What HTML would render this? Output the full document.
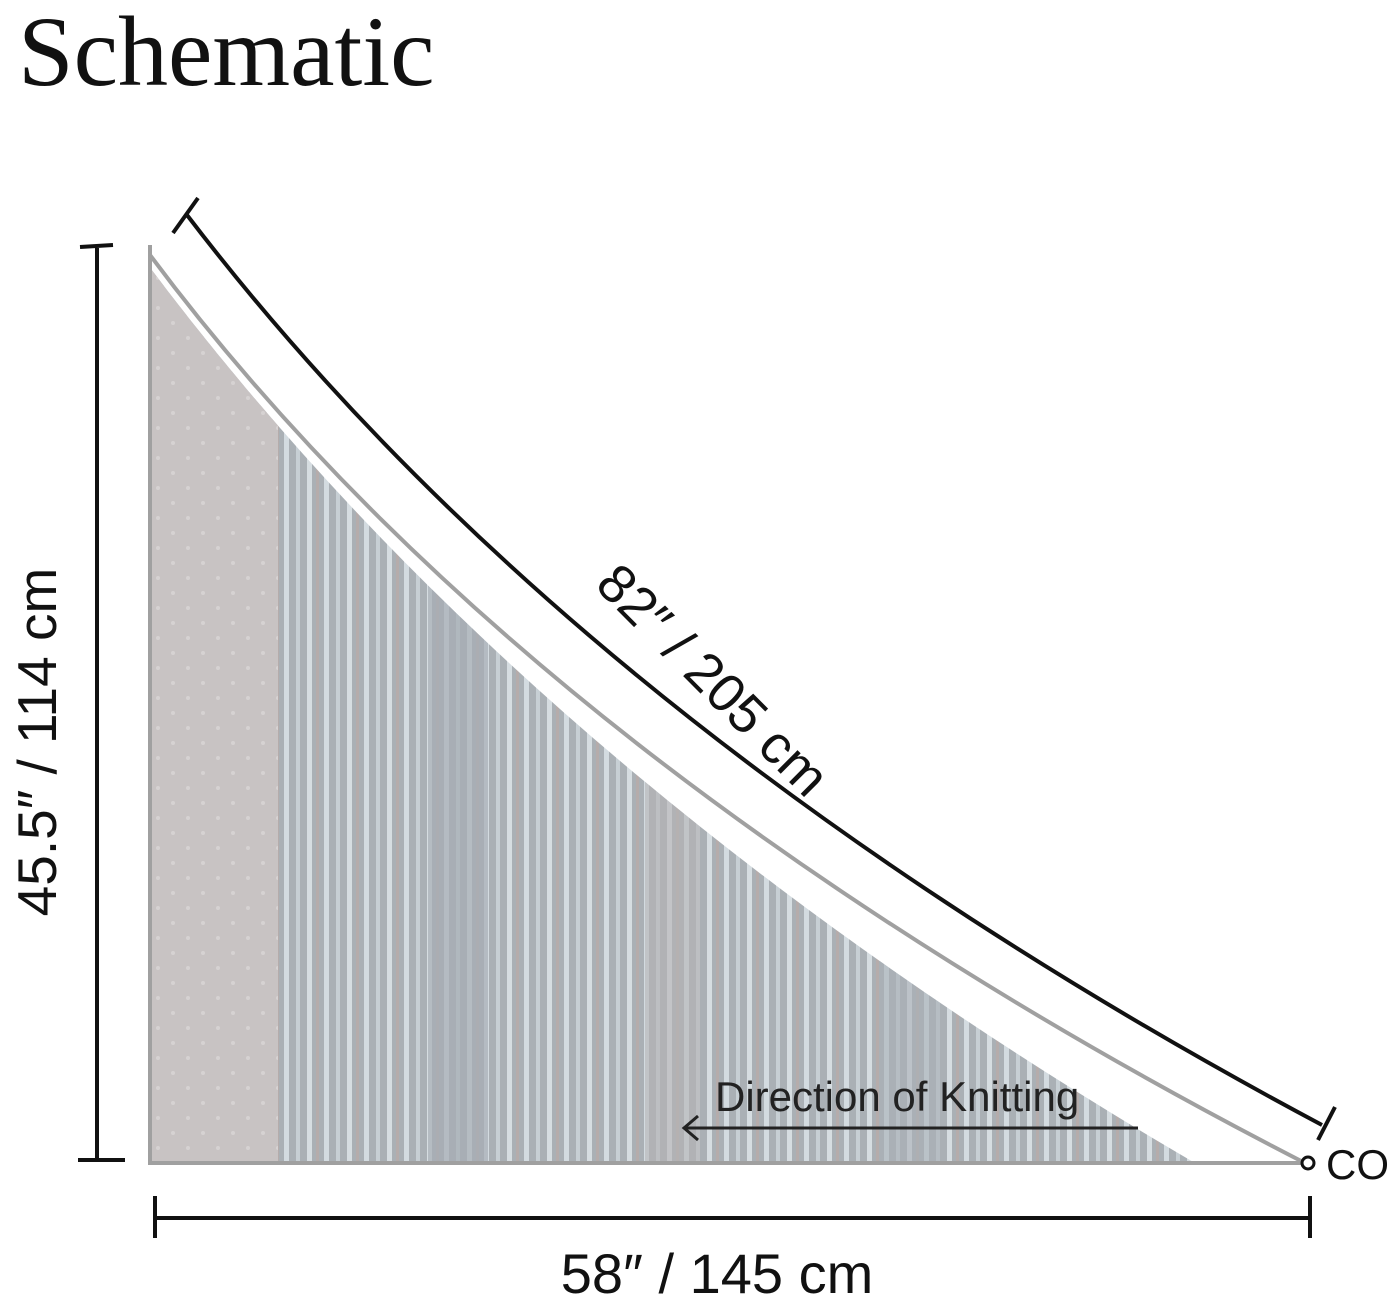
<!DOCTYPE html>
<html><head><meta charset="utf-8"><style>
html,body{margin:0;padding:0;background:#fff;}
body{width:1398px;height:1307px;overflow:hidden;position:relative;}
</style></head><body>
<svg width="1398" height="1307" viewBox="0 0 1398 1307" xmlns="http://www.w3.org/2000/svg">
<defs>
<pattern id="stripes" x="0" y="0" width="40" height="20" patternUnits="userSpaceOnUse">
<rect width="40" height="20" fill="#aab0b5"/>
<rect x="4" width="5" height="20" fill="#d3dbe0"/>
<rect x="16" width="4" height="20" fill="#c7cfd4"/>
<rect x="27" width="5" height="20" fill="#d6dde1"/>
<rect x="36" width="3" height="20" fill="#b5acab"/>
</pattern>
<pattern id="dots" x="0" y="0" width="30" height="30" patternUnits="userSpaceOnUse">
<rect width="30" height="30" fill="#c8c3c3"/>
<circle cx="8" cy="8" r="2" fill="#d6d2d2"/>
<circle cx="23" cy="23" r="2" fill="#d6d2d2"/>
</pattern>
<clipPath id="tri"><path d="M148,265 Q 530,775 1195,1163 L148,1163 Z"/></clipPath>
</defs>
<text x="18" y="85" font-family="Liberation Serif, serif" font-size="100" fill="#111">Schematic</text>
<g clip-path="url(#tri)">
<rect x="148" y="240" width="1200" height="930" fill="url(#stripes)"/>
<rect x="148" y="240" width="130" height="930" fill="url(#dots)"/>
<rect x="428" y="240" width="60" height="930" fill="#a6aeb5" opacity="0.7"/>
<rect x="645" y="240" width="55" height="930" fill="#b6b4b6" opacity="0.6"/>
<rect x="880" y="240" width="60" height="930" fill="#aab1b7" opacity="0.6"/>
</g>
<path d="M150,255 Q 530,765 1305,1163" fill="none" stroke="#a0a0a0" stroke-width="4"/>
<line x1="150" y1="245" x2="150" y2="1163" stroke="#a0a0a0" stroke-width="4"/>
<line x1="148" y1="1163" x2="1305" y2="1163" stroke="#a0a0a0" stroke-width="4"/>
<path d="M187,215 Q 580,730 1322,1125" fill="none" stroke="#111" stroke-width="4"/>
<line x1="173" y1="233" x2="198" y2="198" stroke="#111" stroke-width="4"/>
<line x1="1318" y1="1140" x2="1335" y2="1107" stroke="#111" stroke-width="4"/>
<line x1="97" y1="248" x2="97" y2="1160" stroke="#111" stroke-width="4"/>
<line x1="80" y1="247" x2="113" y2="245" stroke="#111" stroke-width="4"/>
<line x1="78" y1="1160" x2="125" y2="1160" stroke="#111" stroke-width="4"/>
<line x1="155" y1="1218" x2="1310" y2="1218" stroke="#111" stroke-width="4"/>
<line x1="155" y1="1196" x2="155" y2="1238" stroke="#111" stroke-width="4"/>
<line x1="1310" y1="1196" x2="1310" y2="1238" stroke="#111" stroke-width="4"/>
<text transform="translate(56,742) rotate(-90)" text-anchor="middle" font-family="Liberation Sans, sans-serif" font-size="55" fill="#111">45.5″ / 114 cm</text>
<text x="717" y="1293" text-anchor="middle" font-family="Liberation Sans, sans-serif" font-size="56" fill="#111">58″ / 145 cm</text>
<text transform="translate(700,693) rotate(45)" text-anchor="middle" font-family="Liberation Sans, sans-serif" font-size="54" fill="#111">82″ / 205 cm</text>
<line x1="686" y1="1128" x2="1138" y2="1128" stroke="#222" stroke-width="3"/>
<path d="M698,1116 L684,1128 L698,1140" fill="none" stroke="#222" stroke-width="3"/>
<text x="715" y="1111" font-family="Liberation Sans, sans-serif" font-size="42" fill="#222">Direction of Knitting</text>
<circle cx="1308" cy="1163" r="6" fill="#fff" stroke="#111" stroke-width="3"/>
<text x="1326" y="1179" font-family="Liberation Sans, sans-serif" font-size="42" fill="#111">CO</text>
</svg>
</body></html>
